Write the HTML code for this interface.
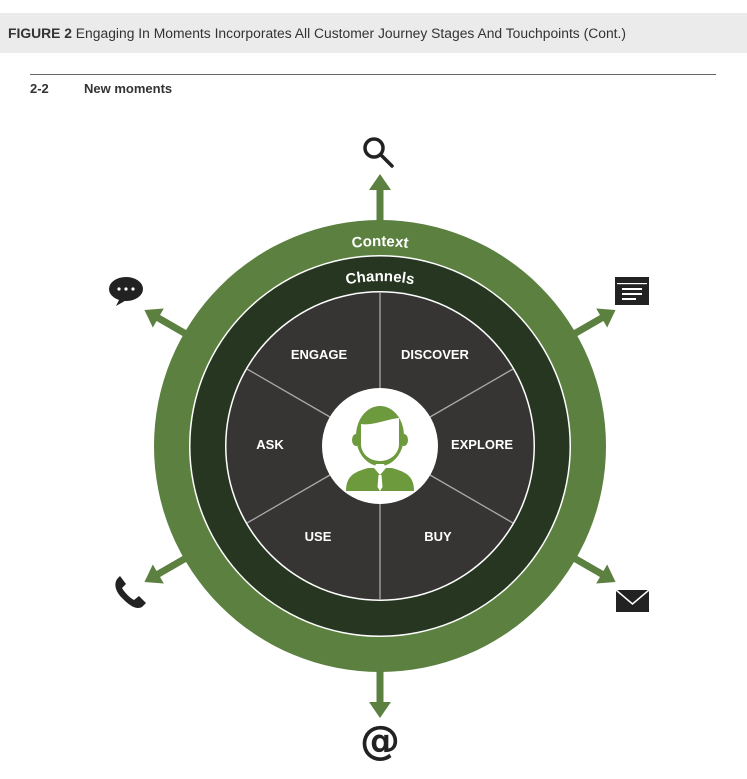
<!DOCTYPE html>
<html><head><meta charset="utf-8"><style>
body{margin:0;background:#fff;width:747px;height:774px;overflow:hidden;font-family:"Liberation Sans",Arial,sans-serif}
</style></head><body>
<svg width="747" height="774" viewBox="0 0 747 774" xmlns="http://www.w3.org/2000/svg" font-family="Liberation Sans, Arial, sans-serif">
<rect x="0" y="13" width="747" height="40" fill="#ebebeb"/>
<text x="8" y="38" font-size="13.5" fill="#333" textLength="618" lengthAdjust="spacingAndGlyphs"><tspan font-weight="bold">FIGURE 2</tspan> Engaging In Moments Incorporates All Customer Journey Stages And Touchpoints (Cont.)</text>
<line x1="30" y1="74.5" x2="716" y2="74.5" stroke="#666" stroke-width="1"/>
<text x="30" y="93" font-size="13" font-weight="bold" fill="#333">2-2</text>
<text x="84" y="93" font-size="13" font-weight="bold" fill="#333">New moments</text>

<g transform="translate(380,446)">
  <g fill="#5b8040" stroke="none">
    <g id="arr"><rect x="-3.5" y="-258" width="7" height="40"/><polygon points="0,-272 -11,-256 11,-256"/></g>
    <use href="#arr" transform="rotate(60)"/>
    <use href="#arr" transform="rotate(120)"/>
    <use href="#arr" transform="rotate(180)"/>
    <use href="#arr" transform="rotate(240)"/>
    <use href="#arr" transform="rotate(300)"/>
  </g>
  <circle r="226" fill="#5b8040"/>
  <circle r="191" fill="#fff"/>
  <circle r="189.5" fill="#263620"/>
  <circle r="155" fill="#fff"/>
  <circle r="153.5" fill="#363533"/>
  <g stroke="#a8a8a8" stroke-width="1.3">
    <line x1="0" y1="-58" x2="0" y2="-154"/>
    <line x1="0" y1="58" x2="0" y2="154"/>
    <line x1="50" y1="-29" x2="133" y2="-77"/>
    <line x1="-50" y1="-29" x2="-133" y2="-77"/>
    <line x1="50" y1="29" x2="133" y2="77"/>
    <line x1="-50" y1="29" x2="-133" y2="77"/>
  </g>
  <circle r="58" fill="#fff"/>
  <defs>
    <path id="arcC" d="M -200 0 A 200 200 0 0 1 200 0"/>
    <path id="arcH" d="M -165 0 A 165 165 0 0 1 165 0"/>
  </defs>
  <text font-size="15" font-weight="bold" fill="#fff" text-anchor="middle"><textPath href="#arcC" startOffset="50%">Context</textPath></text>
  <text font-size="15" font-weight="bold" fill="#fff" text-anchor="middle"><textPath href="#arcH" startOffset="50%">Channels</textPath></text>
  <g font-size="13" font-weight="bold" fill="#fff" text-anchor="middle">
    <text x="-61" y="-87">ENGAGE</text>
    <text x="55" y="-87">DISCOVER</text>
    <text x="-110" y="3">ASK</text>
    <text x="102" y="3">EXPLORE</text>
    <text x="-62" y="95">USE</text>
    <text x="58" y="95">BUY</text>
  </g>
  <g fill="#6e9a3e">
    <path d="M-34,45 C-34,30 -26,26 -12,22 L12,22 C26,26 34,30 34,45 Z"/>
    <ellipse cx="0" cy="-10" rx="24" ry="30"/>
    <ellipse cx="-24" cy="-6" rx="4" ry="6"/>
    <ellipse cx="24" cy="-6" rx="4" ry="6"/>
  </g>
  <path d="M-19,-22 C-8,-20 8,-27 19,-28 L19,-2 C19,8 10,15 0,15 C-10,15 -19,8 -19,-2 Z" fill="#fff"/>
  <path d="M-6,22 L0,29 L6,22 L4,18 L-4,18 Z" fill="#fff"/>
  <path d="M-1.5,29 L1.5,29 L2.5,41 L0,45 L-2.5,41 Z" fill="#fff"/>
</g>

<g fill="none" stroke="#222" stroke-width="3.5">
  <circle cx="374" cy="148" r="9"/>
  <line x1="381" y1="155" x2="392" y2="166" stroke-linecap="round"/>
</g>
<g fill="#222">
  <ellipse cx="126" cy="289" rx="17" ry="12"/>
  <polygon points="120,298 116,306 130,298"/>
</g>
<g fill="#fff"><circle cx="119" cy="289" r="1.6"/><circle cx="126" cy="289" r="1.6"/><circle cx="133" cy="289" r="1.6"/></g>
<rect x="615" y="277" width="34" height="28" fill="#222"/>
<g fill="#fff"><rect x="617" y="283" width="30" height="1.2"/><rect x="622" y="288" width="20" height="2"/><rect x="622" y="293" width="20" height="2"/><rect x="622" y="298" width="14" height="2"/></g>
<rect x="616" y="590" width="33" height="22" fill="#222"/>
<polyline points="616,590 632.5,604 649,590" fill="none" stroke="#fff" stroke-width="1.5"/>
<path d="M118,578 C114,582 114,590 122,598 C130,606 136,610 142,607 L146,603 L139,596 L134,600 C130,598 125,593 122,588 L126,584 L120,576 Z" fill="#222"/>
<text x="380" y="754" font-size="40" font-weight="bold" fill="#222" text-anchor="middle" font-family="DejaVu Sans, sans-serif">@</text>
</svg>
</body></html>
